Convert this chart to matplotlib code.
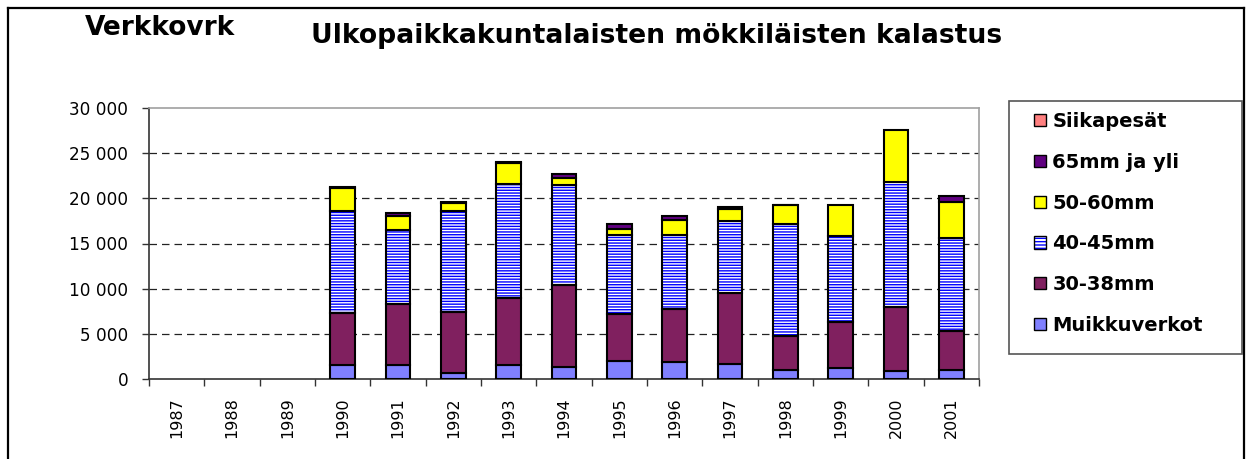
import matplotlib
matplotlib.use("Agg")
import matplotlib.pyplot as plt
import numpy as np
from matplotlib.patches import Patch, Rectangle
from matplotlib.lines import Line2D
from matplotlib.legend_handler import HandlerTuple

years = ["1987", "1988", "1989", "1990", "1991", "1992", "1993", "1994",
         "1995", "1996", "1997", "1998", "1999", "2000", "2001"]
muikkuverkot = [0, 0, 0, 1550, 1550, 630, 1510, 1360, 2030, 1880, 1700, 1030, 1180, 850, 1030]
mm30_38 = [0, 0, 0, 5720, 6750, 6790, 7420, 9040, 5200, 5840, 7850, 3700, 5160, 7090, 4280]
mm40_45 = [0, 0, 0, 11330, 8200, 11180, 12620, 11040, 8670, 8180, 7940, 12430, 9460, 13870, 10270]
mm50_60 = [0, 0, 0, 2520, 1540, 850, 2330, 780, 670, 1700, 1380, 2100, 3430, 5700, 4050]
mm65_yli = [0, 0, 0, 100, 370, 180, 180, 440, 550, 440, 200, 30, 0, 0, 660]
siikapesat = [0] * 15

series_names = ["Muikkuverkot", "30-38mm", "40-45mm", "50-60mm", "65mm ja yli", "Siikapesät"]
series_values = [muikkuverkot, mm30_38, mm40_45, mm50_60, mm65_yli, siikapesat]
colors = ["#8080FF", "#80205F", "white", "#FFFF00", "#600080", "#FF8080"]
yticks = [0, 5000, 10000, 15000, 20000, 25000, 30000]
ytick_labels = ["0", "5 000", "10 000", "15 000", "20 000", "25 000", "30 000"]

W, H = 1247, 459
fig = plt.figure(figsize=(W / 100, H / 100), dpi=100)
ax = fig.add_axes([149 / W, 1 - 379 / H, (979 - 149) / W, (379 - 108) / H])

x = np.arange(len(years))
width = 0.44
bottom = np.zeros(len(years))
for name, vals, col in zip(series_names, series_values, colors):
    vals = np.array(vals, dtype=float)
    mask = vals > 0
    if name == "40-45mm":
        ax.bar(x[mask], vals[mask], width, bottom=bottom[mask], facecolor="white",
               edgecolor="#0000FF", hatch="------", linewidth=0, zorder=3)
        ax.bar(x[mask], vals[mask], width, bottom=bottom[mask], fill=False,
               edgecolor="black", linewidth=1.5, zorder=4)
    else:
        ax.bar(x[mask], vals[mask], width, bottom=bottom[mask], color=col,
               edgecolor="black", linewidth=1.5, zorder=4)
    bottom += vals

ax.set_xlim(-0.5, len(years) - 0.5)
ax.set_ylim(0, 30000)
ax.set_yticks(yticks)
ax.set_yticklabels(ytick_labels, fontsize=12.2, family="DejaVu Sans")
ax.set_xticks(x)
ax.set_xticklabels(years, rotation=90, fontsize=11.5, family="DejaVu Sans")
ax.set_xticks(np.arange(-0.5, len(years), 1.0), minor=True)
ax.tick_params(axis="x", which="major", length=0, pad=13)
ax.tick_params(axis="x", which="minor", length=5, width=1, color="#333333")
ax.tick_params(axis="y", length=5, width=1, color="#333333", pad=10)

for y in yticks[1:-1]:
    ax.axhline(y, color="#222222", linestyle=(0, (6, 4)), linewidth=0.9, zorder=1)

for side in ["top", "right"]:
    ax.spines[side].set_color("#A0A0A0")
    ax.spines[side].set_linewidth(1.2)
for side in ["left", "bottom"]:
    ax.spines[side].set_color("#333333")
    ax.spines[side].set_linewidth(1.2)

fig.text(85 / W, 1 - 28 / H, "Verkkovrk", fontsize=19, fontweight="bold",
         ha="left", va="center")
fig.text(657 / W, 1 - 36 / H, "Ulkopaikkakuntalaisten mökkiläisten kalastus",
         fontsize=19.2, fontweight="bold", ha="center", va="center")

# outer frame
for xs, ys in [([8 / W, 8 / W], [0, 1 - 8 / H]),
               ([8 / W, 1244 / W], [1 - 8 / H, 1 - 8 / H]),
               ([1244 / W, 1244 / W], [0, 1 - 8 / H])]:
    fig.add_artist(Line2D(xs, ys, color="black", lw=1.6, transform=fig.transFigure))

# legend box
fig.add_artist(Rectangle((1009 / W, 1 - 354 / H), (1242 - 1009) / W, (354 - 101) / H,
                         transform=fig.transFigure, facecolor="white",
                         edgecolor="#555555", lw=1.2))
handles = []
for name, col in zip(series_names[::-1], colors[::-1]):
    if name == "40-45mm":
        handles.append((Patch(facecolor="white", edgecolor="#0000FF", hatch="-----",
                              linewidth=0),
                        Patch(fill=False, edgecolor="black", linewidth=1)))
    else:
        handles.append(Patch(facecolor=col, edgecolor="black", linewidth=1))
leg = fig.legend(handles, series_names[::-1], loc="upper left",
                 bbox_to_anchor=(1034 / W, 1 - 112 / H), frameon=False,
                 prop={"weight": "bold", "size": 14}, handlelength=0.6,
                 handleheight=0.6, handletextpad=0.35, labelspacing=1.12,
                 borderaxespad=0, borderpad=0,
                 handler_map={tuple: HandlerTuple(ndivide=1, pad=0)})

fig.savefig("out.png", dpi=100)
